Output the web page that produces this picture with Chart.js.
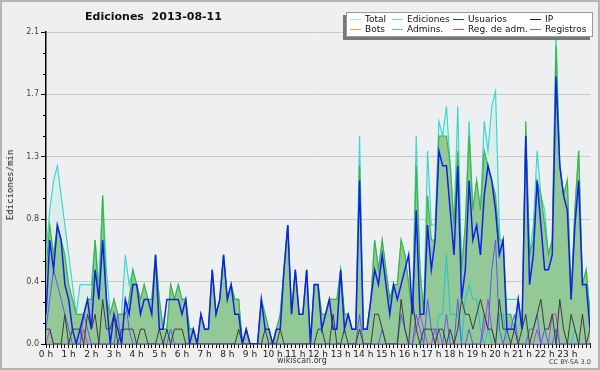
<!DOCTYPE html>
<html>
<head>
<meta charset="utf-8">
<script src="https://cdn.jsdelivr.net/npm/chart.js@4.4.0/dist/chart.umd.min.js"></script>
<style>
  html, body { margin: 0; padding: 0; background: #efefef; }
  #wrap { position: relative; width: 600px; height: 370px; font-family: "DejaVu Sans", sans-serif; }
  #frame { position: absolute; left: 0; top: 0; width: 596px; height: 366px; border: 2px solid #b4b4b4; pointer-events: none; }
  #title { position: absolute; left: 60px; width: 187px; top: 10px; text-align: center; font-weight: bold; font-size: 11px; color: #111; white-space: pre; }
  #ytitle { position: absolute; left: 10px; top: 185px; transform: translate(-50%, -50%) rotate(-90deg); font-family: "DejaVu Sans Mono", monospace; font-size: 9px; color: #111; white-space: nowrap; }
  #site { position: absolute; left: 277px; top: 356px; font-size: 8px; color: #333; }
  #lic { position: absolute; left: 549px; top: 358px; font-size: 6.5px; color: #444; }
  #legend { position: absolute; left: 346px; top: 12px; width: 245px; height: 23px; background: #fff; border: 1px solid #999; box-shadow: -3px 3px 0 #777; font-size: 9px; color: #111; }
  .li { position: absolute; white-space: nowrap; line-height: 10px; }
  .li i { display: inline-block; width: 11px; height: 0; border-top: 1px solid; vertical-align: middle; margin-right: 4px; }
</style>
</head>
<body>
<div id="wrap">
  <canvas id="c" width="600" height="370"></canvas>
  <div id="title">Ediciones  2013-08-11</div>
  <div id="ytitle">Ediciones/min</div>
  <div id="site">wikiscan.org</div>
  <div id="lic">CC BY-SA 3.0</div>
  <div id="legend"></div>
  <div id="frame"></div>
</div>
<script>
// 10-minute bins, edits per minute
const slots = Array.from({ length: 145 }, (_, i) => i);

const total = [
  0.6, 0.9, 1.1, 1.2, 1.0, 0.8, 0.6, 0.4, 0.2, 0.4, 0.4, 0.4,
  0.4, 0.7, 0.4, 1.0, 0.5, 0.2, 0.3, 0.2, 0.2, 0.6, 0.4, 0.5,
  0.4, 0.3, 0.4, 0.3, 0.3, 0.6, 0.3, 0.1, 0.1, 0.4, 0.3, 0.4,
  0.3, 0.3, 0.1, 0.1, 0.0, 0.2, 0.1, 0.1, 0.5, 0.2, 0.3, 0.6,
  0.3, 0.4, 0.3, 0.3, 0.0, 0.1, 0.0, 0.0, 0.0, 0.3, 0.2, 0.1,
  0.0, 0.1, 0.2, 0.5, 0.8, 0.2, 0.5, 0.2, 0.2, 0.5, 0.0, 0.4,
  0.4, 0.2, 0.2, 0.3, 0.3, 0.3, 0.5, 0.2, 0.2, 0.1, 0.1, 1.4,
  0.1, 0.1, 0.3, 0.7, 0.5, 0.7, 0.5, 0.3, 0.4, 0.4, 0.7, 0.6,
  0.4, 0.2, 1.4, 0.5, 0.2, 1.3, 0.8, 0.8, 1.5, 1.4, 1.6, 1.2,
  0.8, 1.6, 0.5, 0.8, 1.5, 0.9, 1.1, 0.9, 1.5, 1.3, 1.6, 1.7,
  0.8, 0.3, 0.3, 0.3, 0.3, 0.3, 0.1, 1.4, 0.6, 0.8, 1.3, 1.0,
  0.9, 0.6, 0.7, 2.1, 1.2, 1.0, 1.1, 0.3, 0.9, 1.3, 0.4, 0.5,
  0.2
];

const ediciones = [
  0.5, 0.8, 0.6, 0.8, 0.7, 0.6, 0.4, 0.3, 0.2, 0.2, 0.2, 0.3,
  0.3, 0.7, 0.3, 1.0, 0.3, 0.2, 0.3, 0.2, 0.2, 0.2, 0.3, 0.5,
  0.4, 0.3, 0.4, 0.3, 0.3, 0.6, 0.3, 0.1, 0.1, 0.4, 0.3, 0.4,
  0.3, 0.3, 0.1, 0.1, 0.0, 0.2, 0.1, 0.1, 0.5, 0.2, 0.3, 0.6,
  0.3, 0.4, 0.3, 0.3, 0.0, 0.1, 0.0, 0.0, 0.0, 0.3, 0.2, 0.1,
  0.0, 0.1, 0.2, 0.5, 0.8, 0.2, 0.5, 0.2, 0.2, 0.5, 0.0, 0.4,
  0.4, 0.2, 0.2, 0.3, 0.3, 0.3, 0.5, 0.2, 0.2, 0.1, 0.1, 1.2,
  0.1, 0.1, 0.3, 0.7, 0.5, 0.7, 0.5, 0.3, 0.4, 0.4, 0.7, 0.6,
  0.4, 0.2, 1.2, 0.5, 0.2, 1.0, 0.7, 0.7, 1.4, 1.4, 1.4, 1.2,
  0.8, 1.3, 0.5, 0.8, 1.4, 0.9, 1.1, 0.9, 1.3, 1.2, 1.1, 1.0,
  0.7, 0.7, 0.2, 0.2, 0.1, 0.3, 0.1, 1.5, 0.6, 0.7, 1.1, 1.0,
  0.8, 0.6, 0.7, 2.0, 1.2, 1.0, 1.1, 0.3, 0.9, 1.3, 0.4, 0.5,
  0.2
];

const usuarios = [
  0.2, 0.7, 0.5, 0.8, 0.7, 0.4, 0.3, 0.1, 0.0, 0.1, 0.2, 0.3,
  0.1, 0.5, 0.3, 0.7, 0.3, 0.0, 0.2, 0.1, 0.0, 0.3, 0.2, 0.4,
  0.4, 0.2, 0.3, 0.3, 0.2, 0.6, 0.1, 0.1, 0.3, 0.3, 0.3, 0.3,
  0.2, 0.3, 0.0, 0.1, 0.0, 0.2, 0.1, 0.1, 0.5, 0.2, 0.3, 0.6,
  0.3, 0.4, 0.2, 0.2, 0.0, 0.1, 0.0, 0.0, 0.0, 0.3, 0.1, 0.1,
  0.0, 0.1, 0.1, 0.5, 0.8, 0.2, 0.5, 0.2, 0.2, 0.5, 0.0, 0.4,
  0.4, 0.1, 0.2, 0.3, 0.1, 0.1, 0.5, 0.1, 0.2, 0.1, 0.1, 1.1,
  0.1, 0.1, 0.3, 0.5, 0.4, 0.6, 0.4, 0.2, 0.4, 0.3, 0.4, 0.5,
  0.6, 0.2, 0.9, 0.2, 0.2, 0.8, 0.5, 0.7, 1.3, 1.2, 1.2, 0.9,
  0.6, 1.2, 0.3, 0.5, 1.1, 0.7, 0.8, 0.6, 1.0, 1.2, 1.1, 0.9,
  0.6, 0.7, 0.1, 0.1, 0.1, 0.3, 0.1, 1.4, 0.4, 0.6, 1.1, 0.8,
  0.5, 0.5, 0.6, 1.8, 1.2, 1.0, 0.9, 0.3, 0.8, 1.1, 0.4, 0.4,
  0.1
];

const ip = [
  0.1, 0.1, 0.0, 0.0, 0.0, 0.2, 0.0, 0.1, 0.1, 0.1, 0.0, 0.2,
  0.1, 0.2, 0.0, 0.3, 0.1, 0.1, 0.2, 0.0, 0.1, 0.1, 0.1, 0.1,
  0.0, 0.1, 0.1, 0.0, 0.0, 0.0, 0.1, 0.0, 0.1, 0.0, 0.1, 0.1,
  0.1, 0.0, 0.0, 0.0, 0.0, 0.0, 0.0, 0.0, 0.0, 0.0, 0.0, 0.0,
  0.0, 0.0, 0.0, 0.1, 0.0, 0.0, 0.0, 0.0, 0.0, 0.0, 0.1, 0.0,
  0.0, 0.0, 0.1, 0.0, 0.0, 0.0, 0.0, 0.0, 0.0, 0.0, 0.0, 0.0,
  0.1, 0.1, 0.0, 0.0, 0.2, 0.0, 0.0, 0.1, 0.0, 0.0, 0.0, 0.1,
  0.0, 0.0, 0.0, 0.2, 0.2, 0.1, 0.0, 0.0, 0.0, 0.0, 0.3, 0.1,
  0.0, 0.3, 0.1, 0.0, 0.1, 0.1, 0.1, 0.0, 0.1, 0.1, 0.0, 0.1,
  0.0, 0.1, 0.3, 0.2, 0.2, 0.1, 0.2, 0.3, 0.2, 0.1, 0.1, 0.0,
  0.3, 0.1, 0.1, 0.0, 0.1, 0.0, 0.1, 0.2, 0.0, 0.1, 0.2, 0.3,
  0.1, 0.1, 0.2, 0.0, 0.3, 0.1, 0.0, 0.2, 0.1, 0.0, 0.2, 0.0,
  0.1
];

const bots = new Array(145).fill(0);

const admins = [
  0.0, 0.0, 0.0, 0.0, 0.0, 0.0, 0.0, 0.0, 0.0, 0.0, 0.0, 0.0,
  0.0, 0.0, 0.0, 0.0, 0.0, 0.0, 0.0, 0.0, 0.0, 0.0, 0.0, 0.0,
  0.0, 0.0, 0.0, 0.0, 0.0, 0.0, 0.0, 0.0, 0.1, 0.0, 0.0, 0.0,
  0.0, 0.0, 0.0, 0.0, 0.0, 0.0, 0.0, 0.0, 0.0, 0.0, 0.0, 0.0,
  0.0, 0.0, 0.0, 0.0, 0.0, 0.0, 0.0, 0.0, 0.0, 0.0, 0.0, 0.0,
  0.0, 0.0, 0.0, 0.0, 0.0, 0.0, 0.0, 0.0, 0.0, 0.0, 0.0, 0.0,
  0.0, 0.0, 0.0, 0.0, 0.0, 0.0, 0.0, 0.0, 0.0, 0.0, 0.0, 0.0,
  0.0, 0.0, 0.0, 0.0, 0.0, 0.0, 0.0, 0.0, 0.0, 0.0, 0.0, 0.0,
  0.0, 0.0, 0.0, 0.0, 0.0, 0.0, 0.0, 0.0, 0.2, 0.2, 0.6, 0.2,
  0.2, 0.2, 0.0, 0.3, 0.4, 0.3, 0.3, 0.1, 0.0, 0.1, 0.0, 0.0,
  0.2, 0.2, 0.0, 0.0, 0.0, 0.0, 0.0, 0.0, 0.0, 0.0, 0.0, 0.0,
  0.0, 0.0, 0.0, 0.0, 0.0, 0.0, 0.0, 0.0, 0.1, 0.0, 0.0, 0.0,
  0.0
];

const regAdm = [
  0.0, 0.1, 0.0, 0.0, 0.0, 0.0, 0.0, 0.0, 0.0, 0.0, 0.1, 0.0,
  0.0, 0.0, 0.0, 0.0, 0.0, 0.0, 0.0, 0.0, 0.0, 0.0, 0.0, 0.0,
  0.0, 0.0, 0.0, 0.0, 0.0, 0.0, 0.0, 0.0, 0.0, 0.0, 0.0, 0.0,
  0.0, 0.0, 0.0, 0.0, 0.0, 0.0, 0.0, 0.0, 0.0, 0.0, 0.0, 0.0,
  0.0, 0.0, 0.0, 0.0, 0.0, 0.0, 0.0, 0.0, 0.0, 0.0, 0.0, 0.0,
  0.0, 0.0, 0.0, 0.0, 0.0, 0.0, 0.0, 0.0, 0.0, 0.0, 0.0, 0.0,
  0.0, 0.0, 0.0, 0.0, 0.0, 0.0, 0.0, 0.0, 0.0, 0.0, 0.0, 0.0,
  0.0, 0.0, 0.0, 0.0, 0.0, 0.0, 0.0, 0.0, 0.0, 0.0, 0.0, 0.0,
  0.0, 0.0, 0.1, 0.2, 0.1, 0.0, 0.0, 0.1, 0.0, 0.0, 0.0, 0.0,
  0.0, 0.0, 0.0, 0.0, 0.0, 0.0, 0.0, 0.0, 0.1, 0.3, 0.1, 0.0,
  0.0, 0.0, 0.0, 0.0, 0.0, 0.0, 0.0, 0.0, 0.0, 0.0, 0.1, 0.0,
  0.0, 0.0, 0.2, 0.2, 0.0, 0.0, 0.0, 0.0, 0.0, 0.0, 0.0, 0.0,
  0.0
];

const registros = [
  0.1, 0.3, 0.5, 0.4, 0.3, 0.2, 0.1, 0.0, 0.0, 0.0, 0.2, 0.1,
  0.0, 0.0, 0.0, 0.0, 0.0, 0.0, 0.0, 0.2, 0.0, 0.3, 0.1, 0.0,
  0.0, 0.0, 0.0, 0.0, 0.0, 0.0, 0.0, 0.0, 0.0, 0.1, 0.0, 0.0,
  0.0, 0.0, 0.0, 0.0, 0.0, 0.0, 0.0, 0.0, 0.0, 0.0, 0.0, 0.0,
  0.0, 0.0, 0.0, 0.0, 0.0, 0.0, 0.0, 0.0, 0.0, 0.0, 0.0, 0.0,
  0.0, 0.0, 0.0, 0.0, 0.0, 0.0, 0.0, 0.0, 0.0, 0.0, 0.0, 0.0,
  0.0, 0.0, 0.0, 0.0, 0.0, 0.0, 0.0, 0.0, 0.0, 0.0, 0.0, 0.2,
  0.0, 0.0, 0.0, 0.0, 0.0, 0.1, 0.0, 0.0, 0.0, 0.0, 0.2, 0.1,
  0.0, 0.0, 0.2, 0.1, 0.0, 0.3, 0.1, 0.1, 0.1, 0.0, 0.2, 0.0,
  0.0, 0.3, 0.0, 0.0, 0.1, 0.0, 0.0, 0.0, 0.2, 0.1, 0.5, 0.7,
  0.1, 0.0, 0.1, 0.1, 0.2, 0.0, 0.0, 0.0, 0.1, 0.1, 0.2, 0.0,
  0.1, 0.0, 0.0, 0.1, 0.0, 0.0, 0.0, 0.0, 0.0, 0.0, 0.0, 0.0,
  0.0
];

const yTicks = [0, 0.42, 0.84, 1.26, 1.68, 2.1];
const hourLabels = Array.from({ length: 24 }, (_, h) => h + ' h');

const series = [
  { label: 'Total', data: total, color: '#40d6cf', fill: '#daefec', width: 1.2 },
  { label: 'Ediciones', data: ediciones, color: '#3db540', fill: '#93c996', width: 1.2 },
  { label: 'Usuarios', data: usuarios, color: '#1020e8', width: 1.5 },
  { label: 'IP', data: ip, color: '#3c3c3c', width: 1 },
  { label: 'Bots', data: bots, color: '#f0a030', width: 1 },
  { label: 'Admins.', data: admins, color: '#22c4d6', width: 1 },
  { label: 'Reg. de adm.', data: regAdm, color: '#c03ce0', width: 1 },
  { label: 'Registros', data: registros, color: '#5a5af2', width: 1 }
];

// legend, 4 columns x 2 rows
const legend = document.getElementById('legend');
const legendColors = ['#a8e8e4', '#90d090', '#3030d8', '#222', '#f0a040', '#40d0e0', '#d040e0', '#6a6af0'];
const colX = [3, 45, 106, 183];
series.forEach((s, i) => {
  const d = document.createElement('div');
  d.className = 'li';
  d.style.left = colX[i % 4] + 'px';
  d.style.top = (i < 4 ? 1 : 11) + 'px';
  d.innerHTML = '<i style="border-color:' + legendColors[i] + '"></i>' + s.label;
  legend.appendChild(d);
});

// draw order: first dataset ends on top
const drawOrder = ['Usuarios', 'IP', 'Registros', 'Reg. de adm.', 'Admins.', 'Bots', 'Ediciones', 'Total'];
const datasets = drawOrder.map(name => {
  const s = series.find(x => x.label === name);
  return {
    label: s.label,
    data: s.data,
    borderColor: s.color,
    borderWidth: s.width,
    backgroundColor: s.fill || s.color,
    fill: s.fill ? 'origin' : false,
    pointRadius: 0,
    tension: 0
  };
});

new Chart(document.getElementById('c'), {
  type: 'line',
  data: { labels: slots, datasets: datasets },
  options: {
    responsive: false,
    animation: false,
    events: [],
    layout: { padding: { left: 0, right: 10, top: 32, bottom: 0 } },
    plugins: { legend: { display: false }, tooltip: { enabled: false }, title: { display: false } },
    scales: {
      x: {
        type: 'linear',
        min: 0,
        max: 144,
        afterBuildTicks: s => { s.ticks = slots.map(v => ({ value: v })); },
        afterFit: s => { s.height = 26; },
        ticks: {
          autoSkip: false,
          maxRotation: 0,
          padding: 1,
          color: '#222',
          font: { family: 'DejaVu Sans', size: 9 },
          callback: v => (v % 6 === 0 && v < 144) ? hourLabels[v / 6] : ''
        },
        grid: { drawOnChartArea: false, tickLength: 4, tickColor: '#000' },
        border: { color: '#000', width: 1.5 }
      },
      y: {
        min: 0,
        max: 2.1,
        afterBuildTicks: s => {
          const t = [];
          for (let k = 0; k <= 15; k++) t.push({ value: k * 0.14 });
          s.ticks = t;
        },
        afterFit: s => { s.width = 46; },
        ticks: {
          padding: 2,
          color: '#444',
          font: { family: 'DejaVu Sans', size: 8 },
          callback: (v, i) => i % 3 === 0 ? yTicks[i / 3].toFixed(1) : ''
        },
        grid: {
          tickLength: 5,
          tickColor: c => c.index % 3 === 0 ? '#000' : 'rgba(0,0,0,0)',
          color: c => (c.index % 3 === 0 && c.index > 0) ? '#c8c8c8' : 'rgba(0,0,0,0)'
        },
        border: { color: '#000', width: 1.5 }
      }
    }
  },
  plugins: [{
    id: 'plotBg',
    beforeDraw: ch => {
      const a = ch.chartArea, g = ch.ctx;
      g.save();
      g.fillStyle = '#eeeff1';
      g.fillRect(a.left, a.top, a.right - a.left, a.bottom - a.top);
      g.restore();
    }
  }, {
    // short minor ticks on the value axis
    id: 'minorY',
    afterDraw: ch => {
      const s = ch.scales.y, g = ch.ctx;
      g.save();
      g.strokeStyle = '#000';
      g.lineWidth = 1;
      s.ticks.forEach((t, i) => {
        if (i % 3 === 0) return;
        const y = Math.round(s.getPixelForValue(t.value)) + 0.5;
        g.beginPath();
        g.moveTo(s.right - 3, y);
        g.lineTo(s.right, y);
        g.stroke();
      });
      g.restore();
    }
  }]
});
</script>
</body>
</html>
